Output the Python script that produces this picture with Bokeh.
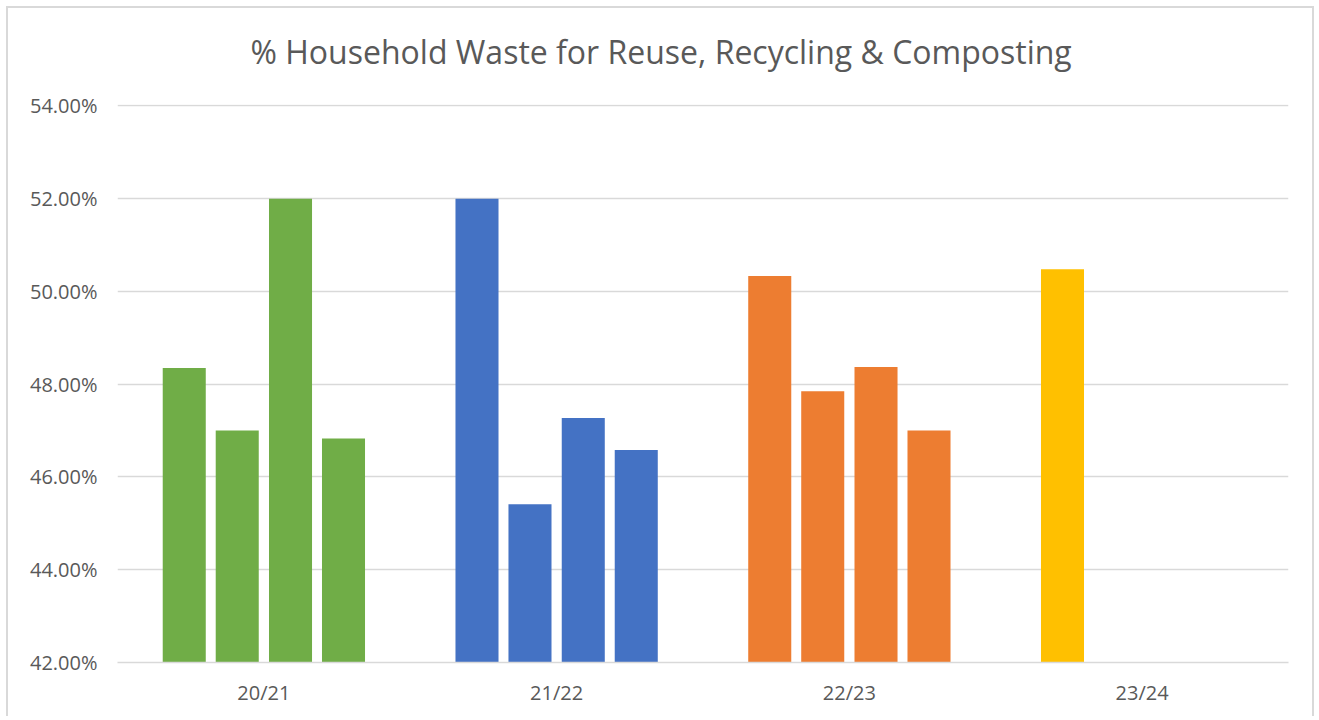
from bokeh.plotting import figure
from bokeh.models import ColumnDataSource, PrintfTickFormatter, FixedTicker, Title
from bokeh.transform import dodge
from bokeh.embed import file_html
from bokeh.resources import INLINE

years = ["20/21", "21/22", "22/23", "23/24"]
year_colors = ["#70AD47", "#4472C4", "#ED7D31", "#FFC000"]
q1 = [48.35, 52.00, 50.33, 50.48]
q2 = [47.00, 45.41, 47.85, None]
q3 = [52.00, 47.27, 48.37, None]
q4 = [46.83, 46.58, 47.00, None]
y_ticks = [42, 44, 46, 48, 50, 52, 54]
title_text = "% Household  Waste for Reuse, Recycling & Composting"

FONT = "Open Sans"
TXT = "#595959"
GRID = "#D9D9D9"

p = figure(x_range=years, y_range=(42, 54.03), width=1308, height=710,
           output_backend="svg", toolbar_location=None,
           min_border_left=109, min_border_right=28, min_border_top=96,
           min_border_bottom=56)
p.styles = {"border-top": "2px solid #D9D9D9", "border-left": "2px solid #D9D9D9",
            "border-right": "2px solid #D9D9D9", "margin-left": "6px", "margin-top": "6px"}

spacer = Title(text=" ", text_font=FONT, text_font_size="10px", standoff=16)
p.add_layout(spacer, "above")
main_title = Title(text=title_text, text_font=FONT, text_font_size="32px",
                   text_font_style="normal", text_color=TXT, align="left",
                   offset=133, standoff=0)
p.add_layout(main_title, "above")

offsets = [-0.272, -0.091, 0.091, 0.272]
width = 0.147
for series, off in zip([q1, q2, q3, q4], offsets):
    xs, ys, cs = [], [], []
    for yr, v, c in zip(years, series, year_colors):
        if v is not None:
            xs.append(yr)
            ys.append(v)
            cs.append(c)
    src = ColumnDataSource(dict(year=xs, val=ys, color=cs))
    p.vbar(x=dodge("year", off, range=p.x_range), top="val", bottom=42, width=width,
           source=src, fill_color="color", line_color=None)

p.outline_line_color = None
p.xgrid.grid_line_color = None
p.ygrid.grid_line_color = GRID
p.ygrid.grid_line_width = 1.5
p.ygrid.ticker = FixedTicker(ticks=y_ticks)

p.yaxis.ticker = FixedTicker(ticks=y_ticks)
p.yaxis.formatter = PrintfTickFormatter(format="%.2f%%")
p.yaxis.axis_line_color = None
p.yaxis.major_tick_line_color = None
p.yaxis.minor_tick_line_color = None
p.yaxis.major_label_text_font = FONT
p.yaxis.major_label_text_font_size = "20px"
p.yaxis.major_label_text_color = TXT
p.yaxis.major_label_standoff = 14

p.xaxis.axis_line_color = GRID
p.xaxis.axis_line_width = 1.5
p.xaxis.major_tick_line_color = None
p.xaxis.minor_tick_line_color = None
p.xaxis.major_label_text_font = FONT
p.xaxis.major_label_text_font_size = "20px"
p.xaxis.major_label_text_color = TXT
p.xaxis.major_label_standoff = 10

p.background_fill_color = "white"
p.border_fill_color = "white"

open("out.html", "w").write(file_html(p, INLINE))
